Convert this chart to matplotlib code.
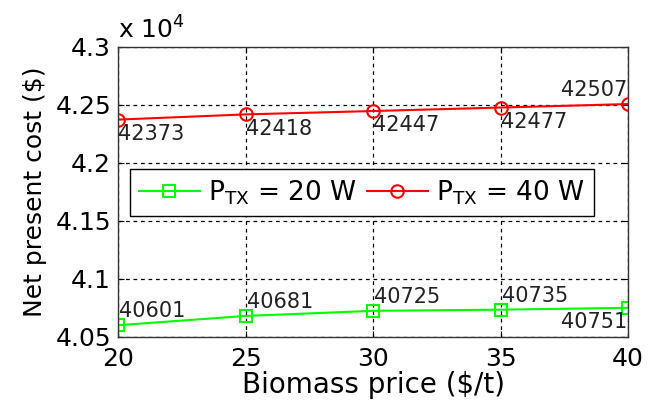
#!/usr/bin/env python3

import numpy as np
import matplotlib
matplotlib.use("Agg")
import matplotlib.pyplot as plt
from matplotlib.ticker import FuncFormatter

plt.rcParams['font.family'] = ['DejaVu Sans']
plt.rcParams['mathtext.default'] = 'regular'

price = [20, 25, 30, 35, 40]
npc_20w = [40601, 40681, 40725, 40735, 40751]
npc_40w = [42373, 42418, 42447, 42477, 42507]
labels = ["P$_{TX}$ = 20 W", "P$_{TX}$ = 40 W"]

fig = plt.figure(figsize=(6.57, 4.04), dpi=100)
ax = fig.add_axes([0.1796, 0.166, 0.7765, 0.718])

ax.plot(price, npc_20w, '-s', color=(0, 1, 0), lw=1.5, ms=8,
        mfc='none', mew=1.5, label=labels[0])
ax.plot(price, npc_40w, '-o', color=(1, 0, 0), lw=1.5, ms=9,
        mfc='none', mew=1.5, label=labels[1])

# data labels, placed like the matlab figure
for i, (x, y) in enumerate(zip(price, npc_40w)):
  if i < 4:
    ax.annotate(str(y), (x, y), xytext=(0, -3), textcoords='offset points',
                ha='left', va='top', fontsize=15, color='#222222')
  else:
    ax.annotate(str(y), (x, y), xytext=(-1, 3), textcoords='offset points',
                ha='right', va='bottom', fontsize=15, color='#222222')
for i, (x, y) in enumerate(zip(price, npc_20w)):
  if i < 4:
    ax.annotate(str(y), (x, y), xytext=(1, 3), textcoords='offset points',
                ha='left', va='bottom', fontsize=15, color='#222222')
  else:
    ax.annotate(str(y), (x, y), xytext=(-1, -3), textcoords='offset points',
                ha='right', va='top', fontsize=15, color='#222222')

ax.set_xlim(20, 40)
ax.set_ylim(40500, 43000)
ax.set_xticks(price)
ax.set_yticks(np.arange(40500, 43001, 500))
ax.yaxis.set_major_formatter(FuncFormatter(lambda v, p: f"{v / 1e4:g}"))
ax.tick_params(direction='in', labelsize=18, length=4, width=0.8, pad=7,
               top=True, right=True)
ax.tick_params(axis='y', pad=5)
ax.grid(True, linestyle=(0, (3, 3)), color='black', lw=0.9)
for s in ax.spines.values():
  s.set_color('#333333')
  s.set_linewidth(1.0)

ax.text(0.0, 1.01, "x 10$^4$", transform=ax.transAxes, fontsize=18,
        ha='left', va='bottom')

ax.set_xlabel("Biomass price ($/t)", fontsize=20, labelpad=0)
ax.set_ylabel("Net present cost ($)", fontsize=18, labelpad=6)

leg = ax.legend(ncol=2, loc='upper left', bbox_to_anchor=(0.023, 0.578),
                fontsize=19, frameon=True, fancybox=False, framealpha=1,
                edgecolor='black', handlelength=2.3, handletextpad=0.3,
                columnspacing=0.4, borderpad=0.35, borderaxespad=0)
leg.get_frame().set_linewidth(1.0)

plt.savefig("out.png", dpi=100)
